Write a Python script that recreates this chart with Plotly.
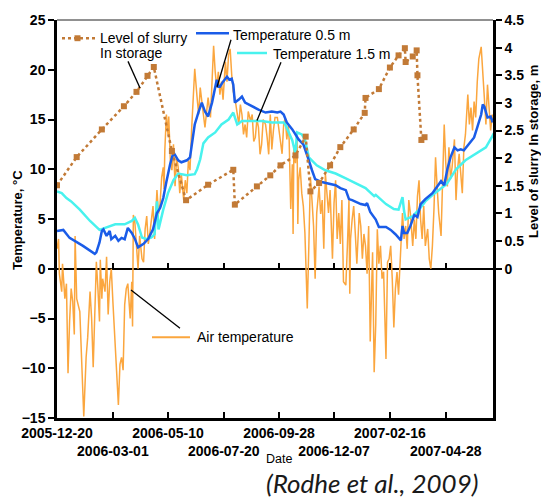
import pandas as pd
import plotly.graph_objects as go

# ---- data (days counted from 2005-12-20) ----
START = pd.Timestamp("2005-12-20")

air_day = [0, 2, 3, 6, 7, 10, 12, 14, 16, 18, 20, 22, 23, 24, 25, 29, 31, 34, 37, 39,
           42, 44, 46, 48, 50, 52, 54, 55, 57, 58, 61, 63, 65, 67, 69, 71, 74, 75, 78, 80,
           82, 84, 86, 88, 90, 93, 95, 96, 97, 99, 101, 103, 105, 108, 110, 112, 114, 116, 118, 120,
           122, 124, 127, 129, 131, 133, 135, 136, 137, 139, 141, 142, 144, 146, 148, 150, 152, 154, 156, 158,
           161, 163, 165, 167, 169, 171, 173, 175, 178, 180, 182, 184, 186, 188, 190, 192, 195, 197, 199, 201,
           203, 205, 207, 209, 211, 214, 216, 218, 220, 222, 224, 226, 229, 231, 233, 235, 237, 239, 241, 243,
           246, 248, 250, 252, 254, 256, 258, 260, 262, 265, 267, 269, 271, 273, 275, 277, 280, 282, 284, 286,
           288, 290, 292, 294, 295, 297, 299, 300, 301, 303, 305, 306, 307, 309, 311, 313, 315, 318, 320, 322,
           324, 326, 328, 330, 333, 335, 337, 339, 341, 343, 345, 347, 350, 352, 354, 356, 358, 360, 362, 364,
           367, 369, 371, 372, 373, 375, 377, 379, 381, 384, 386, 388, 390, 392, 394, 396, 398, 401, 403, 405,
           407, 409, 411, 413, 415, 418, 420, 422, 424, 426, 428, 430, 432, 434, 437, 439, 441, 443, 445, 447,
           449, 452, 454, 456, 458, 460, 462, 464, 466, 468, 471, 473, 475, 477, 479, 481, 483, 485, 488, 490,
           492, 494, 496, 498, 500, 502, 505, 507, 509, 511, 513, 515, 517, 519, 522, 524, 526, 528, 530, 532,
           534, 536, 539, 541, 543, 545, 547, 549, 551, 553, 555]
air_temp = [2.0, 3.0, -0.5, -2.3, 0.5, -3.0, -1.5, -10.5, -5.3, -2.0, -3.3, -6.6, 3.3, -1.0, -3.0, -4.3, -7.9, -14.85, -8.9, -6.9,
            -2.3, -5.0, -9.9, -3.0, 0.7, -2.0, -5.3, 0.9, -3.0, -1.0, -2.3, 1.2, -4.6, -1.3, 0.0, -3.3, -7.6, -9.0, -13.7, -9.6,
            -8.9, -10.2, -3.6, -2.0, -1.5, -5.0, -1.3, -5.8, 5.4, 4.6, 1.65, 0.0, 3.3, 1.0, 0.66, 4.0, 5.3, 2.5, 3.6, 5.0,
            6.3, 3.0, 7.9, 5.5, 6.6, 9.2, 10.2, 8.0, 11.9, 15.5, 13.5, 15.3, 10.9, 9.9, 12.5, 8.3, 11.2, 10.2, 7.6, 9.5,
            6.9, 8.9, 7.6, 10.9, 9.9, 13.9, 17.2, 20.1, 17.2, 15.5, 18.2, 16.5, 15.5, 14.2, 15.8, 17.2, 15.2, 18.8, 22.4, 19.8,
            18.2, 19.8, 17.5, 18.8, 17.0, 20.8, 18.8, 21.5, 22.1, 19.5, 17.8, 17.2, 15.8, 14.5, 16.5, 15.5, 13.5, 14.5, 13.2, 15.8,
            14.85, 15.5, 12.8, 13.2, 15.0, 14.2, 11.5, 12.5, 15.0, 14.5, 13.2, 11.5, 15.5, 12.0, 13.9, 15.2, 15.2, 13.9, 12.9, 11.55,
            14.5, 15.2, 13.0, 14.5, 12.9, 6.0, 10.5, 3.5, 12.2, 10.6, 13.5, 4.5, 8.9, 10.2, 7.6, 6.3, 3.6, -4.0, 2.3, 9.25,
            6.9, 4.3, -1.0, 5.6, 8.26, 5.5, 6.9, 2.0, 9.57, 7.6, 5.6, 7.9, 1.0, 6.6, 8.9, 3.0, 5.6, 2.5, 6.9, -1.3,
            -1.65, 2.3, 6.9, -2.5, 3.0, 4.95, 6.3, 3.6, 0.5, 5.6, 4.3, 1.0, 3.5, 2.3, -0.5, 4.3, -7.3, 1.65, -10.4, -5.6,
            3.96, 0.5, 2.3, -1.0, -0.3, -9.07, 0.66, 1.0, 2.3, -1.0, -5.9, -2.0, -0.33, -2.6, 2.64, 5.6, 3.0, 4.3, 2.0, 6.9,
            5.6, 2.3, 4.95, 3.0, 7.27, 8.9, 4.95, 3.0, 6.3, 2.3, 4.0, 1.0, 0.0, 2.3, 6.0, 11.2, 8.26, 5.6, 3.3, 9.0,
            14.5, 10.6, 8.26, 12.2, 9.0, 10.2, 13.0, 6.9, 10.0, 11.55, 9.5, 7.6, 12.2, 13.5, 17.5, 14.5, 16.2, 13.9, 16.8, 15.2,
            18.8, 21.1, 22.3, 20.1, 17.2, 14.5, 18.5, 16.2, 13.9, 15.5, 14.5]

t05_day = [0, 8, 16, 33, 48, 50, 54, 57, 59, 63, 67, 69, 74, 78, 82, 86, 90, 95, 99, 103,
           110, 116, 122, 127, 131, 135, 139, 144, 148, 154, 158, 165, 169, 171, 175, 180, 184, 188, 192, 197,
           201, 203, 205, 207, 211, 216, 219, 222, 224, 226, 231, 235, 239, 248, 256, 265, 273, 280, 284, 288,
           292, 299, 307, 313, 318, 320, 324, 328, 335, 343, 354, 360, 367, 371, 375, 386, 392, 394, 398, 405,
           409, 418, 424, 430, 437, 439, 441, 445, 449, 454, 458, 462, 468, 477, 483, 488, 492, 496, 500, 505,
           509, 513, 517, 522, 526, 530, 534, 539, 541, 543, 547, 551, 553, 555]
t05_temp = [3.8, 3.9, 3.1, 2.3, 1.5, 1.65, 2.64, 3.8, 3.96, 3.3, 3.8, 2.97, 3.3, 2.8, 3.1, 2.97, 4.1, 3.6, 3.0, 2.15,
            2.5, 3.0, 3.96, 5.6, 6.1, 7.1, 8.75, 10.6, 11.7, 10.9, 10.7, 10.9, 11.2, 12.5, 14.5, 15.8, 16.7, 15.8, 15.3, 16.7,
            18.3, 19.0, 18.3, 18.3, 18.8, 19.3, 19.0, 19.1, 18.5, 16.7, 17.0, 17.3, 16.7, 16.3, 16.0, 15.7, 15.8, 15.7, 15.8, 15.5,
            14.7, 14.0, 13.0, 12.5, 11.5, 10.9, 9.9, 9.0, 8.75, 8.6, 8.4, 8.1, 7.9, 7.0, 6.9, 6.5, 6.4, 6.6, 5.7, 4.95,
            4.2, 4.2, 3.9, 3.47, 2.85, 4.3, 3.6, 3.6, 4.3, 5.4, 5.2, 6.5, 7.0, 7.6, 8.2, 8.8, 8.4, 10.0, 11.2, 12.2,
            11.9, 12.0, 11.9, 12.4, 12.7, 13.2, 14.2, 15.5, 16.5, 16.3, 15.2, 15.3, 14.85, 15.0]

t15_day = [0, 6, 12, 18, 29, 42, 54, 63, 74, 86, 95, 99, 103, 108, 114, 120, 124, 127, 129, 135,
           141, 148, 154, 165, 175, 178, 182, 186, 192, 201, 209, 218, 224, 229, 235, 248, 260, 273, 288, 290,
           294, 299, 303, 305, 311, 315, 320, 324, 330, 341, 354, 367, 379, 386, 392, 403, 405, 418, 428, 434,
           439, 441, 443, 452, 460, 468, 480, 495, 507, 519, 532, 545, 553, 555]
t15_temp = [7.76, 7.6, 7.1, 6.77, 5.94, 4.8, 3.9, 4.13, 4.46, 4.46, 4.8, 5.12, 4.46, 3.14, 2.97, 3.14, 3.47, 6.77, 3.96, 5.94,
            7.6, 8.9, 9.57, 9.4, 9.5, 10.0, 11.0, 12.6, 13.2, 13.7, 14.5, 15.0, 15.7, 14.5, 14.85, 14.85, 14.85, 14.7, 14.7, 14.5,
            13.7, 12.9, 11.55, 13.7, 13.5, 13.0, 11.2, 10.9, 10.4, 9.9, 9.57, 9.08, 8.6, 8.3, 8.1, 7.3, 7.43, 6.5, 6.0, 5.94,
            7.2, 5.8, 4.95, 5.3, 5.94, 6.77, 7.6, 8.5, 10.0, 10.9, 11.55, 12.2, 13.3, 13.6]

slurry_day = [0, 25, 57, 85, 101, 115, 123, 146, 164, 192, 224, 226, 254, 271, 284, 303, 316, 322, 333, 347,
              360, 377, 391, 392, 409, 423, 434, 442, 443, 452, 457, 458, 463, 467]
slurry_level = [1.51, 2.02, 2.52, 2.94, 3.2, 3.49, 3.65, 2.13, 1.24, 1.52, 1.79, 1.16, 1.49, 1.69, 1.87, 2.05, 2.39, 1.40, 1.55, 1.87,
                2.2, 2.52, 2.82, 3.09, 3.25, 3.64, 3.86, 3.99, 3.74, 3.84, 3.95, 3.5, 2.33, 2.38]

x_ticks = ["2005-12-20", "2006-03-01", "2006-05-10", "2006-07-20",
           "2006-09-28", "2006-12-07", "2007-02-16", "2007-04-28"]
temp_ticks = [-15, -10, -5, 0, 5, 10, 15, 20, 25]
level_ticks = [0, 0.5, 1, 1.5, 2, 2.5, 3, 3.5, 4, 4.5]

# ---- colours / fonts ----
C_AIR = "#FBA63E"
C_05 = "#1A5CE8"
C_15 = "#48F2EE"
C_SLURRY = "#C27A36"
FONT = "Liberation Sans"


def dates(days):
    return [START + pd.Timedelta(days=int(d)) for d in days]


# plot-area geometry in pixels, used to place the hand-made legend
W, H = 541, 500
ML, MR, MT, MB = 57, 48, 14, 82
PW, PH = W - ML - MR, H - MT - MB


def px(x):
    return (x - ML) / PW


def py(y):
    return (H - MB - y) / PH


fig = go.Figure()

fig.add_trace(go.Scatter(x=dates(air_day), y=air_temp, mode="lines",
                         line=dict(color=C_AIR, width=1.5), name="Air temperature",
                         hoverinfo="skip"))
fig.add_trace(go.Scatter(x=dates(t15_day), y=t15_temp, mode="lines",
                         line=dict(color=C_15, width=2.5), name="Temperature 1.5 m"))
fig.add_trace(go.Scatter(x=dates(t05_day), y=t05_temp, mode="lines",
                         line=dict(color=C_05, width=2.5), name="Temperature 0.5 m"))
fig.add_trace(go.Scatter(x=dates(slurry_day), y=slurry_level, yaxis="y2", mode="lines+markers",
                         line=dict(color=C_SLURRY, width=2.5, dash="dot"),
                         marker=dict(symbol="square", size=6, color=C_SLURRY),
                         name="Level of slurry In storage"))
# carrier for the tick axis drawn along the zero line
fig.add_trace(go.Scatter(x=[], y=[], xaxis="x3", yaxis="y", showlegend=False))

x_range = ["2005-12-20", "2007-06-27"]
ticktext = [t if i % 2 == 0 else "<br>" + t for i, t in enumerate(x_ticks)]
tickfont = dict(family=FONT, size=14, color="black", weight="bold")

fig.update_layout(
    width=W, height=H,
    margin=dict(l=ML, r=MR, t=MT, b=MB),
    paper_bgcolor="white", plot_bgcolor="white",
    showlegend=False,
    xaxis=dict(type="date", range=x_range, tickvals=x_ticks, ticktext=ticktext,
               ticks="inside", ticklen=6, tickwidth=1.5, tickcolor="black",
               showline=True, linewidth=2.5, linecolor="black",
               showgrid=False, zeroline=False, tickfont=tickfont, tickangle=0),
    xaxis3=dict(type="date", range=x_range, tickvals=x_ticks, overlaying="x",
                anchor="free", position=15 / 40, ticks="inside", ticklen=6,
                tickwidth=1.5, tickcolor="black", showticklabels=False,
                showline=False, showgrid=False, zeroline=False),
    yaxis=dict(range=[-15, 25], tickvals=temp_ticks, ticks="outside", ticklen=6,
               tickwidth=1.5, tickcolor="black", showline=True, linewidth=2.5,
               linecolor="black", showgrid=False, zeroline=True, zerolinecolor="black",
               zerolinewidth=2, tickfont=tickfont),
    yaxis2=dict(range=[-2.7, 4.5], overlaying="y", side="right", tickvals=level_ticks,
                ticktext=[f"{v:g}" for v in level_ticks], ticks="outside", ticklen=6,
                tickwidth=1.5, tickcolor="black", showline=True, linewidth=2.5,
                linecolor="black", showgrid=False, zeroline=False, tickfont=tickfont),
)

shapes = [
    # thin top frame
    dict(type="line", xref="paper", yref="paper", x0=0, x1=1, y0=1, y1=1,
         line=dict(color="#222", width=1)),
    # legend samples
    dict(type="line", xref="paper", yref="paper", x0=px(62), x1=px(96), y0=py(32.5), y1=py(32.5),
         line=dict(color=C_SLURRY, width=2.5, dash="dot")),
    dict(type="rect", xref="paper", yref="paper", x0=px(74.5), x1=px(80.5), y0=py(29.5), y1=py(35.5),
         fillcolor=C_SLURRY, line=dict(width=0)),
    dict(type="line", xref="paper", yref="paper", x0=px(196), x1=px(229), y0=py(27.5), y1=py(27.5),
         line=dict(color=C_05, width=2.5)),
    dict(type="line", xref="paper", yref="paper", x0=px(237), x1=px(267), y0=py(47.5), y1=py(47.5),
         line=dict(color=C_15, width=2.5)),
    dict(type="line", xref="paper", yref="paper", x0=px(152), x1=px(190), y0=py(336), y1=py(336),
         line=dict(color=C_AIR, width=2)),
    # leader lines
    dict(type="line", xref="paper", yref="paper", x0=px(128), x1=px(140), y0=py(56), y1=py(83),
         line=dict(color="black", width=1.3)),
    dict(type="line", xref="paper", yref="paper", x0=px(231), x1=px(217), y0=py(34), y1=py(82),
         line=dict(color="black", width=1.3)),
    dict(type="line", xref="paper", yref="paper", x0=px(281), x1=px(257), y0=py(57), y1=py(116),
         line=dict(color="black", width=1.3)),
    dict(type="line", xref="paper", yref="paper", x0=px(131), x1=px(180), y0=py(288), y1=py(327),
         line=dict(color="black", width=1.3)),
]
fig.update_layout(shapes=shapes)

lab = dict(family=FONT, size=14, color="black")


def note(text, x, y, **kw):
    base = dict(text=text, x=px(x), y=py(y), xref="paper", yref="paper", showarrow=False,
                xanchor="left", yanchor="middle", font=lab)
    base.update(kw)
    fig.add_annotation(**base)


note("Level of slurry", 98, 32)
note("In storage", 98, 47)
note("Temperature 0.5 m", 231, 29)
note("Temperature 1.5 m", 271, 49)
note("Air temperature", 195, 336)
note("Temperature, °C", 18, 217, xanchor="center", textangle=-90,
     font=dict(family=FONT, size=13, color="black", weight="bold"))
note("Level of slurry In storage, m", 533, 148, xanchor="center", textangle=-90,
     font=dict(family=FONT, size=13, color="black", weight="bold"))
note("Date", 279, 460, xanchor="center", font=dict(family=FONT, size=12.5, color="black"))
note("(Rodhe et al., 2009)", 372, 484, xanchor="center",
     font=dict(family="Lato", size=26, color="#1a1a1a", style="italic"))

fig.write_html("out.html")
